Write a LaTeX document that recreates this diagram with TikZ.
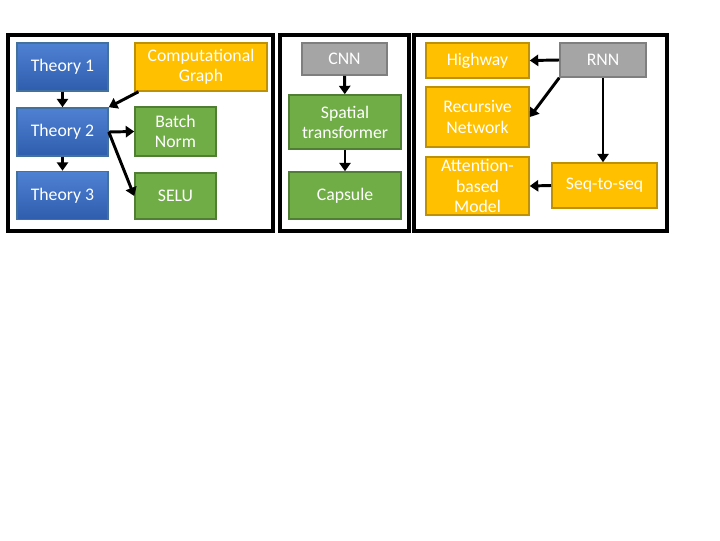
\documentclass[tikz,border=0pt]{standalone}
\usepackage{fontspec}
\setmainfont{Carlito}
\usetikzlibrary{arrows.meta}
\definecolor{gold}{HTML}{FFC000}
\definecolor{goldline}{HTML}{BF9000}
\definecolor{leaf}{HTML}{70AD47}
\definecolor{leafline}{HTML}{507E32}
\definecolor{stone}{HTML}{A5A5A5}
\definecolor{stoneline}{HTML}{7F7F7F}
\definecolor{skyA}{HTML}{4F81D2}
\definecolor{skyB}{HTML}{2F5DAE}
\definecolor{skyline}{HTML}{41719C}

\begin{document}
\begin{tikzpicture}[x=0.025cm, y=-0.025cm, font=\fontsize{12.6}{14.3}\selectfont,
    box/.style={line width=1.1pt, text=white, align=center, inner sep=1pt},
    theory/.style={box, draw=skyline, top color=skyA, bottom color=skyB, minimum width=2.275cm, minimum height=1.2cm},
    goldbox/.style={box, draw=goldline, fill=gold},
    leafbox/.style={box, draw=leafline, fill=leaf},
    stonebox/.style={box, draw=stoneline, fill=stone},
    panel/.style={line width=2.2pt},
    link/.style={line width=2.1pt, -{Triangle[width=8pt,length=6pt]}}]

  \useasboundingbox[fill=white] (0,0) rectangle (720,540);

  % Panel frames.
  \draw[panel] (8,35) rectangle (273,231);
  \draw[panel] (280,35) rectangle (409,231);
  \draw[panel] (414,35) rectangle (667,231);

  % Theory column.
  \node[theory] (t1) at (62.5,67) {Theory 1};
  \node[theory] (t2) at (62.5,132) {Theory 2};
  \node[theory] (t3) at (62.5,195.5) {Theory 3};
  \node[goldbox, minimum width=3.3cm, minimum height=1.2cm] (cg) at (201,67) {Computational\\Graph};
  \node[leafbox, minimum width=2.025cm, minimum height=1.225cm] (bn) at (175.5,131.5) {Batch\\Norm};
  \node[leafbox, minimum width=2.025cm, minimum height=1.15cm] (selu) at (175.5,196) {SELU};

  % CNN column.
  \node[stonebox, minimum width=2.125cm, minimum height=0.8cm] (cnn) at (344.5,59) {CNN};
  \node[leafbox, minimum width=2.8cm, minimum height=1.35cm] (st) at (345,122) {Spatial\\transformer};
  \node[leafbox, minimum width=2.8cm, minimum height=1.175cm] (cap) at (345,195.5) {Capsule};

  % RNN column.
  \node[goldbox, minimum width=2.575cm, minimum height=0.875cm] (hw) at (477.5,60.5) {Highway};
  \node[stonebox, minimum width=2.15cm, minimum height=0.85cm] (rnn) at (603,60) {RNN};
  \node[goldbox, minimum width=2.575cm, minimum height=1.5cm] (rec) at (477.5,117) {Recursive\\Network};
  \node[goldbox, minimum width=2.575cm, minimum height=1.45cm] (att) at (477.5,186) {Attention-\\based\\Model};
  \node[goldbox, minimum width=2.625cm, minimum height=1.125cm] (seq) at (604.5,185.5) {Seq-to-seq};

  % Connectors.
  \draw[link] (t1) -- (t2);
  \draw[link] (t2) -- (t3);
  \draw[link] ([xshift=3pt]cg.south west) -- (t2.north east);
  \draw[link] (t2.east) -- (bn.west);
  \draw[link] (t2.east) -- (selu.west);
  \draw[link] (cnn) -- (st);
  \draw[link] (st) -- (cap);
  \draw[link] (rnn.west) -- (hw.east);
  \draw[link] (rnn.south west) -- (rec.east);
  \draw[link] (rnn.south) -- (rnn.south |- seq.north);
  \draw[link] (seq.west) -- (att.east);
\end{tikzpicture}
\end{document}
